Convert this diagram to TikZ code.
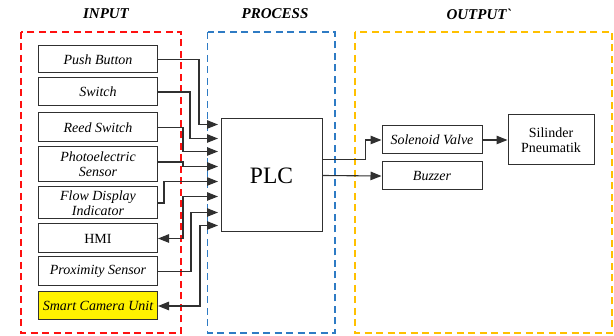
\documentclass[tikz,border=0pt]{standalone}
\usepackage{fontspec}
\setmainfont{Liberation Serif}
\usetikzlibrary{arrows.meta}
\definecolor{dred}{HTML}{FF1010}
\definecolor{dblue}{HTML}{2E7BC4}
\definecolor{dgold}{HTML}{FFC000}
\definecolor{linegray}{HTML}{303030}
\begin{document}
\begin{tikzpicture}[x=1pt,y=-1pt,
  box/.style={draw=linegray, line width=1pt, minimum width=119pt, inner sep=0pt, align=center,
    font=\fontsize{14}{15}\selectfont\itshape},
  upbox/.style={box, font=\fontsize{14}{15}\selectfont},
  outbox/.style={box, minimum width=100pt, minimum height=28pt},
  region/.style={line width=1.3pt, dash pattern=on 7pt off 4.5pt},
  header/.style={font=\fontsize{15}{16}\selectfont\bfseries\itshape},
  conn/.style={draw=linegray, line width=1.1pt},
  tip/.tip={Triangle[length=11pt,width=8.5pt]},
  arr/.style={conn, -tip},
  arrb/.style={conn, tip-tip}
]
\useasboundingbox (0,0) rectangle (614,336);

% regions
\draw[region, draw=dred] (21,32) rectangle (181,333);
\draw[region, draw=dblue] (207.5,32) rectangle (335,333);
\draw[region, draw=dgold] (355,32) rectangle (612,333);

\node[header] (hin) at (106,14) {INPUT};
\node[header] (hpr) at (275,14) {PROCESS};
\node[header] (hout) at (479,14) {OUTPUT\textasciigrave};

% input boxes
\node[box, minimum height=27pt] (pb) at (98,59.5) {Push Button};
\node[box, minimum height=28pt] (sw) at (98,92) {Switch};
\node[box, minimum height=29pt] (rs) at (98,127.5) {Reed Switch};
\node[box, minimum height=35pt] (pe) at (98,164.5) {Photoelectric\\Sensor};
\node[box, minimum height=32pt] (fd) at (98,203) {Flow Display\\Indicator};
\node[upbox, minimum height=29pt] (hmi) at (98,238.5) {HMI};
\node[box, minimum height=29pt] (px) at (98,271.5) {Proximity Sensor};
\node[box, minimum height=28pt, fill=yellow] (sc) at (98,306) {Smart Camera Unit};

% PLC
\node[draw=linegray, line width=1pt, minimum width=101pt, minimum height=113pt, inner sep=0pt,
  font=\fontsize{23.5}{25}\selectfont] (plc) at (271.5,175.5) {PLC};

\path (plc.north west) ++(-2.5,6) coordinate (p1)
      (plc.north west) ++(-2.5,20) coordinate (p2)
      (plc.north west) ++(-2.5,33) coordinate (p3)
      (plc.north west) ++(-2.5,48) coordinate (p4)
      (plc.north west) ++(-2.5,63) coordinate (p5)
      (plc.north west) ++(-2.5,78) coordinate (p6)
      (plc.north west) ++(-2.5,94) coordinate (p7)
      (plc.north west) ++(-2.5,107) coordinate (p8)
      (plc.north east) ++(0,41) coordinate (q1)
      (plc.north east) ++(0,57) coordinate (q2);

% output boxes
\node[outbox] (sv) at (432,140) {Solenoid Valve};
\node[outbox] (bz) at (432,176) {Buzzer};
\node[upbox, minimum width=86pt, minimum height=50pt] (sp) at (551,140) {Silinder\\Pneumatik};

% input connectors
\draw[arr] (pb.east) -- ++(41,0) |- (p1);
\draw[arr] (sw.east) -- ++(32,0) |- (p2);
\draw[arr] (rs.east) -- ++(25,0) |- (p3);
\draw[arr] ([yshift=2.5pt]pe.east) -- ++(25,0) |- (p4);
\draw[arr] (fd.east) -- ++(6,0) |- (p5);
\draw[arrb] (hmi.east) -- ++(25,0) |- (p6);
\draw[arr] (px.east) -- ++(33,0) |- (p7);
\draw[arrb] (sc.east) -- ++(42,0) |- (p8);

% output connectors
\draw[arr] (q1) -- ++(43,0) |- (sv.west);
\draw[arr] (q2) -- (bz.west);
\draw[arr] (sv.east) -- (sp.west);
\end{tikzpicture}
\end{document}
